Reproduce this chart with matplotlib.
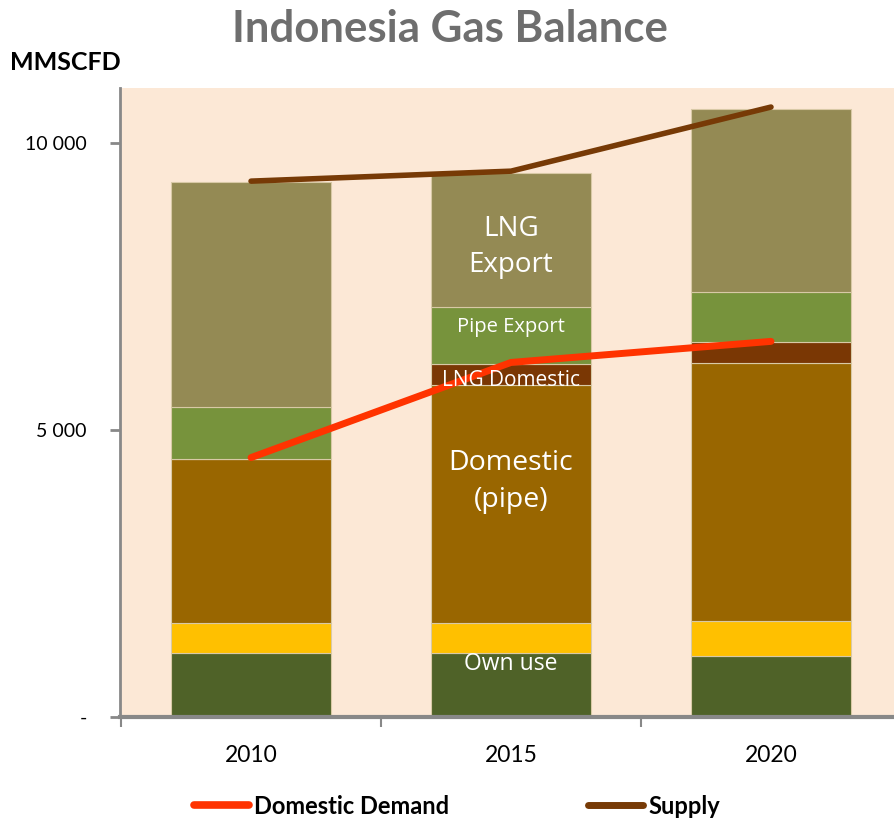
import matplotlib
matplotlib.use("Agg")
import matplotlib.pyplot as plt
import numpy as np
from matplotlib.lines import Line2D

years = ["2010", "2015", "2020"]
own_use = [1120, 1120, 1065]
own_extra = [520, 520, 610]
domestic_pipe = [2860, 4150, 4500]
lng_domestic = [0, 367, 367]
pipe_export = [910, 995, 855]
lng_export = [3910, 2320, 3190]
domestic_demand = [4520, 6178, 6545]
supply = [9337, 9511, 10628]

series = [
    (own_use, "#4F6228"),
    (own_extra, "#FFC000"),
    (domestic_pipe, "#996600"),
    (lng_domestic, "#7A3704"),
    (pipe_export, "#77933C"),
    (lng_export, "#948A54"),
]

plt.rcParams['font.family'] = ['Lato', 'DejaVu Sans']

fig = plt.figure(figsize=(8.95, 8.22), dpi=100)
ax = fig.add_axes([120/895, 1-717/822, 775/895, (717-88)/822])
ax.set_facecolor("#FCE8D6")

x = np.arange(len(years))
bottom = np.zeros(len(years))
for vals, col in series:
    v = np.array(vals, dtype=float)
    ax.bar(x, v, bottom=bottom, width=0.615, color=col, edgecolor="#D8C9A6", linewidth=0.8, zorder=2)
    bottom += v

ax.plot(x, domestic_demand, color="#FF3300", lw=5, solid_capstyle="round", zorder=3)
ax.plot(x, supply, color="#773A06", lw=4, solid_capstyle="round", zorder=3)

ax.set_xlim(-0.504, 2.477)
ax.set_ylim(0, 10960)
ax.set_yticks([0, 5000, 10000])
ax.set_yticklabels(["-", "5 000", "10 000"], fontsize=14)
ax.set_xticks(x)
ax.set_xticklabels(years, fontsize=16.5)
ax.set_xticks([-0.5, 0.5, 1.5], minor=True)
ax.tick_params(axis='x', which='major', length=0, pad=20)
ax.tick_params(axis='x', which='minor', length=7, width=1.5, color="#888888", direction='out')
ax.tick_params(axis='y', length=7, width=2, color="#888888", pad=17)
for s in ["top", "right"]:
    ax.spines[s].set_visible(False)
ax.spines["left"].set_color("#888888")
ax.spines["left"].set_linewidth(2)
ax.spines["bottom"].set_color("#888888")
ax.spines["bottom"].set_linewidth(3)

# in-bar labels (2015 bar)
tc = "white"
lf = ['Open Sans', 'DejaVu Sans']
ax.text(1, 8190, "LNG\nExport", ha="center", va="center", color=tc, fontsize=20, linespacing=1.42,
        family=lf, zorder=4)
ax.text(1, 6800, "Pipe Export", ha="center", va="center", color=tc, fontsize=14.5, family=lf, zorder=4)
ax.text(1, 5870, "LNG Domestic", ha="center", va="center", color=tc, fontsize=15, family=lf, zorder=4)
ax.text(1, 4110, "Domestic\n(pipe)", ha="center", va="center", color=tc, fontsize=20.5, linespacing=1.42,
        family=lf, zorder=4)
ax.text(1, 915, "Own use", ha="center", va="center", color=tc, fontsize=16.5, family=lf, zorder=4)

fig.text(450/895, 1-29/822, "Indonesia Gas Balance", ha="center", va="center",
         fontsize=31.5, fontweight="bold", color="#6E6E6E")
fig.text(10/895, 1-63/822, "MMSCFD", ha="left", va="center", fontsize=18, fontweight="bold", color="black")

handles = [Line2D([], [], color="#FF3300", lw=5.5, solid_capstyle="round"),
           Line2D([], [], color="#773A06", lw=5, solid_capstyle="round")]
fig.legend(handles, ["Domestic Demand", "Supply"], loc="center", bbox_to_anchor=(457/895, 1-806/822),
           ncol=2, frameon=False, prop={'weight': 'bold', 'size': 17}, columnspacing=5.9,
           handlelength=2.33, handletextpad=0.2, borderpad=0, borderaxespad=0)

fig.savefig("out.png", dpi=100)
